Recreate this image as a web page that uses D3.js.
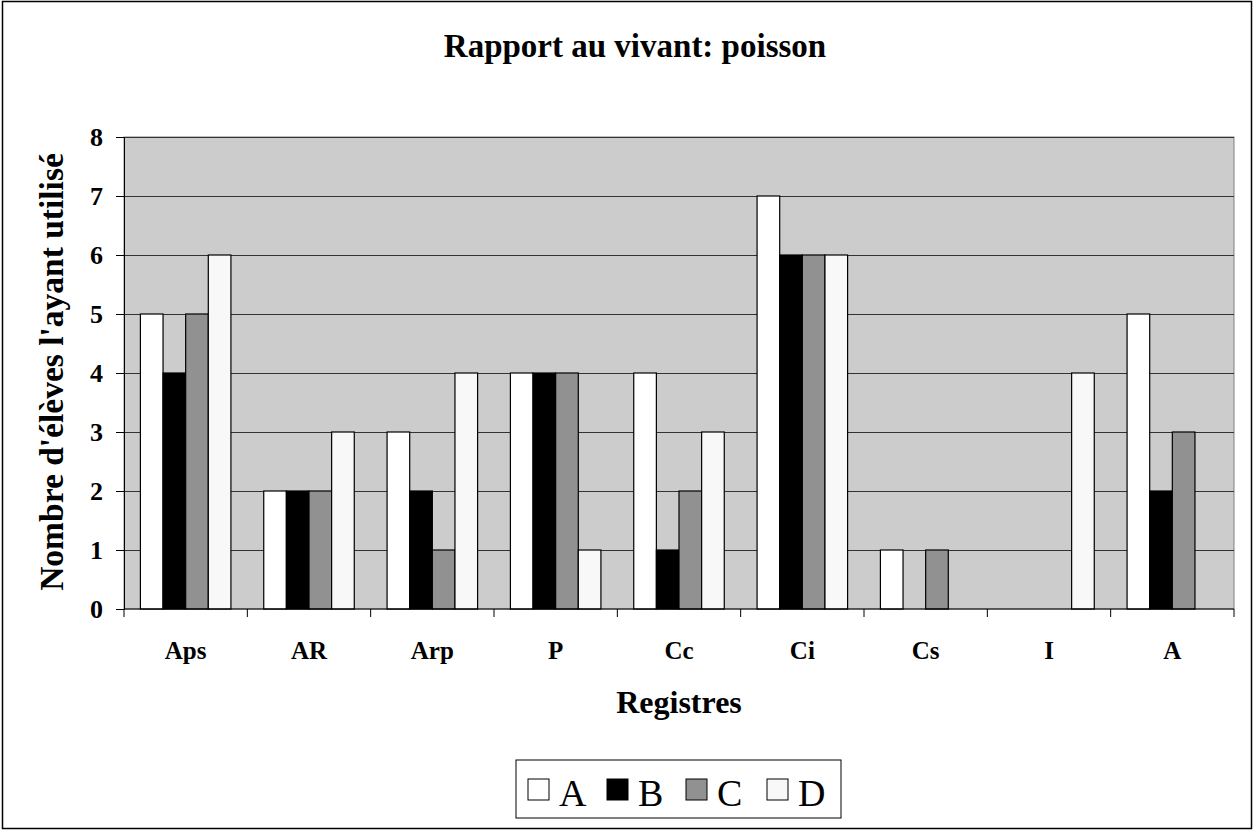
<!DOCTYPE html>
<html>
<head>
<meta charset="utf-8">
<script src="https://cdn.jsdelivr.net/npm/d3@7"></script>
<style>
  body { margin: 0; background: #fff; }
  text { font-family: "Liberation Serif", "Times New Roman", serif; }
</style>
</head>
<body>
<div id="chart"></div>
<script>
// data
var categories = ["Aps", "AR", "Arp", "P", "Cc", "Ci", "Cs", "I", "A"];
var seriesNames = ["A", "B", "C", "D"];
var valuesA = [5, 2, 3, 4, 4, 7, 1, 0, 5];
var valuesB = [4, 2, 2, 4, 1, 6, 0, 0, 2];
var valuesC = [5, 2, 1, 4, 2, 6, 1, 0, 3];
var valuesD = [6, 3, 4, 1, 3, 6, 0, 4, 0];
var yTicks = [0, 1, 2, 3, 4, 5, 6, 7, 8];

var seriesValues = [valuesA, valuesB, valuesC, valuesD];
var colors = ["#ffffff", "#000000", "#919191", "#f8f8f8"];

var W = 1255, H = 832;
var margin = {top: 137, right: 21, bottom: 223, left: 124},
    width = W - margin.left - margin.right,
    height = H - margin.top - margin.bottom;

var svg = d3.select("#chart")
  .append("svg")
    .attr("width", W)
    .attr("height", H);

// outer border
svg.append("rect")
  .attr("x", 2.5).attr("y", 1.5)
  .attr("width", 1249).attr("height", 827)
  .attr("fill", "none")
  .attr("stroke", "#000")
  .attr("stroke-width", 1.5);

var g = svg.append("g")
  .attr("transform", "translate(" + margin.left + "," + margin.top + ")");

var x = d3.scaleBand()
  .domain(categories)
  .range([0, width]);

var xSub = d3.scaleBand()
  .domain(seriesNames)
  .range([0, x.bandwidth()])
  .paddingOuter(0.725);

var y = d3.scaleLinear()
  .domain([0, 8])
  .range([height, 0]);

// plot background
g.append("rect")
  .attr("width", width)
  .attr("height", height)
  .attr("fill", "#cccccc")
  .attr("stroke", "#808080");

// gridlines
g.selectAll(".grid")
  .data(yTicks.filter(function(d) { return d > 0; }))
  .enter()
  .append("line")
    .attr("x1", 0).attr("x2", width)
    .attr("y1", function(d) { return y(d) + 0.5; })
    .attr("y2", function(d) { return y(d) + 0.5; })
    .attr("stroke", "#333")
    .attr("stroke-width", 1);

// bars
var groups = g.selectAll(".grp")
  .data(categories)
  .enter()
  .append("g")
    .attr("transform", function(d) { return "translate(" + x(d) + ",0)"; });

groups.selectAll("rect")
  .data(function(d, i) {
    return seriesNames.map(function(s, j) { return {s: s, v: seriesValues[j][i], c: colors[j]}; });
  })
  .enter()
  .append("rect")
    .filter(function(d) { return d.v > 0; })
    .attr("x", function(d) { return xSub(d.s); })
    .attr("y", function(d) { return y(d.v); })
    .attr("width", xSub.bandwidth())
    .attr("height", function(d) { return height - y(d.v); })
    .attr("fill", function(d) { return d.c; })
    .attr("stroke", "#000")
    .attr("stroke-width", 1.2);

// y axis
var yAxis = g.append("g")
  .call(d3.axisLeft(y).tickValues(yTicks).tickSize(8).tickPadding(13).tickFormat(d3.format("d")));
yAxis.selectAll("text")
  .attr("font-size", 26)
  .attr("font-weight", "bold")
  .attr("font-family", "Liberation Serif, serif")
  .attr("fill", "#000");
yAxis.select(".domain").attr("stroke", "#000");

// x axis: ticks at category boundaries
var xAxis = g.append("g")
  .attr("transform", "translate(0," + height + ")");
xAxis.append("line")
  .attr("x1", 0).attr("x2", width)
  .attr("stroke", "#000");
xAxis.selectAll(".tk")
  .data(categories.concat([null]))
  .enter()
  .append("line")
    .attr("x1", function(d, i) { return i * x.step(); })
    .attr("x2", function(d, i) { return i * x.step(); })
    .attr("y1", 0).attr("y2", 8)
    .attr("stroke", "#000");
xAxis.selectAll(".lbl")
  .data(categories)
  .enter()
  .append("text")
    .attr("x", function(d) { return x(d) + x.bandwidth() / 2; })
    .attr("y", 50)
    .attr("text-anchor", "middle")
    .attr("font-size", 25)
    .attr("font-weight", "bold")
    .text(function(d) { return d; });

// title
svg.append("text")
  .attr("x", 635).attr("y", 57)
  .attr("text-anchor", "middle")
  .attr("font-size", 33)
  .attr("font-weight", "bold")
  .text("Rapport au vivant: poisson");

// axis titles
svg.append("text")
  .attr("x", margin.left + width / 2).attr("y", 713)
  .attr("text-anchor", "middle")
  .attr("font-size", 32)
  .attr("font-weight", "bold")
  .text("Registres");

svg.append("text")
  .attr("transform", "translate(63," + (margin.top + height / 2 - 1) + ") rotate(-90)")
  .attr("text-anchor", "middle")
  .attr("font-size", 33.5)
  .attr("font-weight", "bold")
  .text("Nombre d'élèves l'ayant utilisé");

// legend
var legend = svg.append("g").attr("transform", "translate(516,760)");
legend.append("rect")
  .attr("width", 325).attr("height", 58)
  .attr("fill", "#fff")
  .attr("stroke", "#000");
var legendX = [12, 91, 170, 251];
var item = legend.selectAll(".item")
  .data(seriesNames)
  .enter()
  .append("g")
    .attr("transform", function(d, i) { return "translate(" + legendX[i] + ",0)"; });
item.append("rect")
  .attr("x", 0).attr("y", 19)
  .attr("width", 21).attr("height", 21)
  .attr("fill", function(d, i) { return colors[i]; })
  .attr("stroke", "#000");
item.append("text")
  .attr("x", 31).attr("y", 46)
  .attr("font-size", 38)
  .text(function(d) { return d; });
</script>
</body>
</html>
